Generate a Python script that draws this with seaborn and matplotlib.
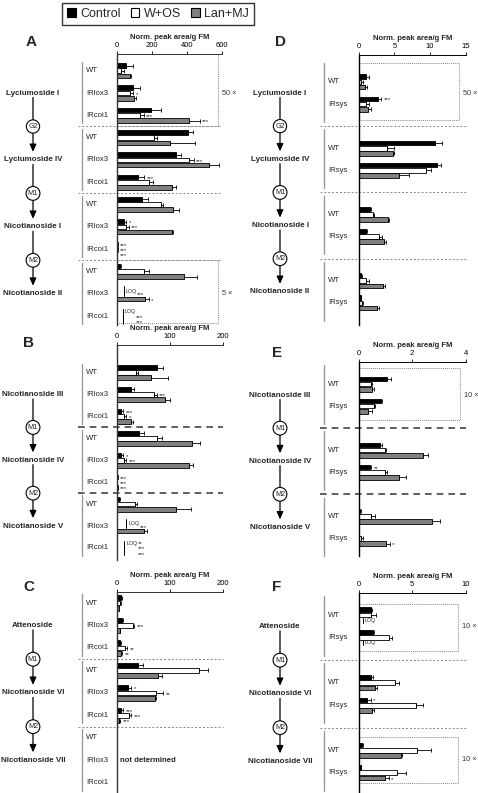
import numpy as np
import pandas as pd
import seaborn as sns
import matplotlib.pyplot as plt
from matplotlib.patches import Patch, Rectangle
from matplotlib.transforms import blended_transform_factory

sns.set_style('white')
plt.rcParams['font.family'] = ['Liberation Sans', 'DejaVu Sans']

W, H = 478, 793
nan = np.nan

treatments = ['Control', 'W+OS', 'Lan+MJ']
colors = ['black', 'white', '#808080']

# Panel A - rows are compound x genotype
a_compounds = ['Lyciumoside I', 'Lyciumoside IV', 'Nicotianoside I', 'Nicotianoside II']
a_steps = ['G2', 'M1', 'M2']
a_genotypes = ['WT', 'IRlox3', 'IRcoi1']
a_control = [53, 91, 194, 406, 339, 118, 143, 38, 3, 19, 0, 0]
a_control_err = [38, 42, 57, 28, 27, 38, 32, 15, 0, 4, 0, 0]
a_wos = [23, 76, 133, 210, 410, 181, 251, 53, 3, 156, 0, 0]
a_wos_err = [19, 15, 19, 19, 28, 25, 12, 14, 0, 25, 0, 0]
a_lanmj = [72, 99, 410, 305, 524, 314, 320, 314, 2, 385, 162, 0]
a_lanmj_err = [8, 11, 62, 143, 57, 25, 32, 6, 0, 72, 19, 0]
a_control_sig = ['', '', '', '', '', '***', '', '*', '***', '', '', '']
a_wos_sig = ['', '*', '***', '', '***', '', '', '***', '***', '', '***', '***']
a_lanmj_sig = ['', '', '***', '', '', '', '', '', '***', '', '*', '***']
a_loq_rows = [10, 11]
a_loq_levels = [38, 32]
a_loq_bars = [[0, 1], [0, 1, 2]]

# Panel B
b_compounds = ['Nicotianoside III', 'Nicotianoside IV', 'Nicotianoside V']
b_steps = ['M1', 'M2']
b_genotypes = ['WT', 'IRlox3', 'IRcoi1']
b_control = [75, 27, 7.5, 42, 7.5, 1, 4, 0, 0]
b_control_err = [11, 5, 3.5, 9, 4.5, 0, 1, 0, 0]
b_wos = [36, 69, 14, 76, 14, 0.5, 34, 0, 0]
b_wos_err = [4, 6, 3, 8, 3, 0, 3, 0, 0]
b_lanmj = [64, 90, 26, 142, 136, 1, 112, 50, 0]
b_lanmj_err = [33, 10, 5, 14, 7, 0, 28, 6, 0]
b_control_sig = ['', '', '***', '', '*', '***', '', '', '**']
b_wos_sig = ['', '***', '*', '', '***', '***', '', '***', '***']
b_lanmj_sig = ['', '', '', '', '', '***', '', '', '***']
b_loq_rows = [7, 8]
b_loq_levels = [17, 14]
b_loq_bars = [[0, 1], [0, 1, 2]]

# Panel C (Nicotianoside VII not determined)
c_compounds = ['Attenoside', 'Nicotianoside VI', 'Nicotianoside VII']
c_steps = ['M1', 'M2']
c_genotypes = ['WT', 'IRlox3', 'IRcoi1']
c_control = [7.5, 10, 6, 40, 20, 7.5, nan, nan, nan]
c_control_err = [1.5, 2, 1.5, 9, 6, 3.5, nan, nan, nan]
c_wos = [6, 31, 16, 155, 73, 22, nan, nan, nan]
c_wos_err = [1.5, 2, 3, 16, 14, 4, nan, nan, nan]
c_lanmj = [3, 5, 7.5, 77, 72, 4, nan, nan, nan]
c_lanmj_err = [1, 1, 1.5, 8, 2, 2, nan, nan, nan]
c_control_sig = ['', '', '', '', '*', '***', '', '', '']
c_wos_sig = ['', '***', '**', '', '**', '***', '', '', '']
c_lanmj_sig = ['', '', '**', '', '', '***', '', '', '']

# Panel D
d_compounds = ['Lyciumoside I', 'Lyciumoside IV', 'Nicotianoside I', 'Nicotianoside II']
d_steps = ['G2', 'M1', 'M2']
d_genotypes = ['WT', 'IRsys']
d_control = [1.07, 2.7, 10.7, 11.0, 1.54, 1.0, 0.37, 0.28]
d_control_err = [0.33, 0.4, 1.0, 0.6, 0.2, 0.15, 0.1, 0.05]
d_wos = [0.37, 1.07, 3.9, 9.5, 2.0, 2.9, 1.07, 0.46]
d_wos_err = [0.19, 0.33, 1.1, 0.7, 0.2, 0.3, 0.4, 0.15]
d_lanmj = [0.93, 1.3, 4.8, 5.6, 4.1, 3.5, 3.4, 2.6]
d_lanmj_err = [0.27, 0.4, 0.2, 1.4, 0.2, 0.35, 0.3, 0.3]
d_control_sig = ['', '***', '', '', '', '', '', '']
d_wos_sig = ['', '', '', '', '', '', '', '']
d_lanmj_sig = ['', '', '', '', '', '', '', '']

# Panel E
e_compounds = ['Nicotianoside III', 'Nicotianoside IV', 'Nicotianoside V']
e_steps = ['M1', 'M2']
e_genotypes = ['WT', 'IRsys']
e_control = [1.06, 0.82, 0.79, 0.41, 0.05, 0.02]
e_control_err = [0.14, 0.05, 0.08, 0.06, 0.02, 0]
e_wos = [0.45, 0.57, 0.97, 1.0, 0.45, 0.1]
e_wos_err = [0.05, 0.05, 0.06, 0.07, 0.17, 0.05]
e_lanmj = [0.5, 0.35, 2.4, 1.5, 2.74, 1.03]
e_lanmj_err = [0.07, 0.15, 0.2, 0.28, 0.29, 0.13]
e_control_sig = ['', '', '', '**', '', '']
e_wos_sig = ['', '', '', '', '', '']
e_lanmj_sig = ['', '', '', '', '', '*']

# Panel F
f_compounds = ['Attenoside', 'Nicotianoside VI', 'Nicotianoside VII']
f_steps = ['M1', 'M2']
f_genotypes = ['WT', 'IRsys']
f_control = [1.12, 1.34, 1.18, 0.81, 0.31, 0.19]
f_control_err = [0.16, 0.09, 0.12, 0.31, 0.13, 0.05]
f_wos = [1.18, 2.8, 3.43, 5.39, 5.48, 3.6]
f_wos_err = [0.47, 0.3, 0.31, 0.61, 1.3, 0.85]
f_lanmj = [0, 0, 1.56, 1.25, 3.93, 2.43]
f_lanmj_err = [0, 0, 0.18, 0.18, 0.12, 0.37]
f_control_sig = ['', '', '', '*', '', '']
f_wos_sig = ['', '', '', '', '', '']
f_lanmj_sig = ['', '', '', '', '', '*']
f_loq_rows = [0, 1]
f_loq_levels = [0.4, 0.4]
f_loq_bars = [[2], [2]]


fig = plt.figure(figsize=(W / 100, H / 100), dpi=100)


def px(x):
    return x / W


def add_panel(left, right, top, bottom):
    return fig.add_axes([left / W, 1 - bottom / H, (right - left) / W, (bottom - top) / H])


def draw_panel(ax, compounds, steps, genotypes, vals, errs, sigs, xmax, xticks, ylim,
               side, heavy_sep=False, loq=None, spine_color='#333333'):
    ng = len(genotypes)
    pos = [c * 3 + g for c in range(len(compounds)) for g in range(ng)]
    rows = []
    for i, t in enumerate(treatments):
        for j, p in enumerate(pos):
            if not np.isnan(vals[i][j]):
                rows.append({'pos': p, 'trt': t, 'value': vals[i][j]})
    df = pd.DataFrame(rows)
    sns.barplot(data=df, x='value', y='pos', hue='trt', hue_order=treatments,
                palette=colors, orient='h', native_scale=True, width=0.7, gap=0.1,
                errorbar=None, edgecolor='black', linewidth=0.6, legend=False, ax=ax)

    # bar geometry from the drawn patches
    geo = {}
    for i, cont in enumerate(ax.containers):
        for bar in cont:
            yc = bar.get_y() + bar.get_height() / 2
            geo[(i, int(round(yc)))] = (yc, bar.get_height(), bar.get_width())

    loq_map = {}
    if loq is not None:
        for r, lev, bars in zip(*loq):
            p = pos[r]
            ys = [geo[(b, p)] for b in bars if (b, p) in geo]
            y0 = min(g[0] - g[1] / 2 for g in ys)
            y1 = max(g[0] + g[1] / 2 for g in ys)
            ax.plot([lev, lev], [y0, y1], color='black', lw=0.7, clip_on=False)
            ax.text(lev + 0.02 * xmax, (y0 + y1) / 2 if len(bars) < 3 else y0 + 0.12,
                    'LOQ', fontsize=3.8, va='center', ha='left')
            for b in bars:
                loq_map[(b, p)] = lev + 0.13 * xmax

    for i in range(3):
        for j, p in enumerate(pos):
            if (i, p) not in geo:
                continue
            yc, h, w = geo[(i, p)]
            e = errs[i][j]
            if e and not np.isnan(e):
                ax.errorbar([w], [yc], xerr=[[0], [e]], fmt='none', ecolor='black',
                            elinewidth=0.6, capsize=1.3, capthick=0.6, clip_on=False)
            s = sigs[i][j]
            if s:
                xs = loq_map.get((i, p), w + (e if e and not np.isnan(e) else 0) + 0.025 * xmax)
                ax.text(xs, yc + 0.05, s, fontsize=4.4, va='center', ha='left')

    ax.set_xlim(0, xmax)
    ax.set_ylim(*ylim)
    ax.set_xticks(xticks)
    ax.set_yticks([])
    ax.set_xlabel('')
    ax.set_ylabel('')
    ax.xaxis.set_ticks_position('top')
    ax.tick_params(axis='x', direction='out', length=2.5, width=0.6, pad=0.8,
                   labelsize=5.5, colors='black')
    for k in ['right', 'bottom']:
        ax.spines[k].set_visible(False)
    ax.spines['top'].set_color(spine_color)
    ax.spines['top'].set_linewidth(0.7)
    ax.spines['left'].set_color(spine_color)
    ax.spines['left'].set_linewidth(1.0)

    # margin annotations
    tr = blended_transform_factory(fig.transFigure, ax.transData)
    x1 = ax.get_position().x1
    if side == 'left':
        name_x, brk_x, gen_x, sep_x = 33, 82, 86, 78
        brk = (-0.4, 2.35)
    else:
        name_x, brk_x, gen_x, sep_x = 280, 324, 328, 320
        brk = (-0.85, 1.8)
    centers = [c * 3 + (ng - 1) / 2 for c in range(len(compounds))]
    seps = [c * 3 - (3 - ng) / 2 - 0.5 for c in range(1, len(compounds))]
    for c, name in enumerate(compounds):
        ax.text(px(name_x), centers[c], name, transform=tr, ha='center', va='center',
                fontsize=5.8, fontweight='bold')
        ax.plot([px(brk_x)] * 2, [c * 3 + brk[0], c * 3 + brk[1]], transform=tr,
                color='#999999', lw=1.0, clip_on=False)
        for g, gname in enumerate(genotypes):
            ax.text(px(gen_x), c * 3 + g, gname, transform=tr, ha='left', va='center',
                    fontsize=5.6)
    for k, s in enumerate(seps):
        if heavy_sep:
            ax.plot([px(sep_x), x1], [s, s], transform=tr, color='#444444', lw=1.2,
                    dashes=(4, 3), clip_on=False)
        else:
            ax.plot([px(sep_x), x1], [s, s], transform=tr, color='#888888', lw=0.7,
                    dashes=(2, 2), clip_on=False)
        ax.annotate('', xy=(px(name_x), centers[k + 1] - 0.36),
                    xytext=(px(name_x), centers[k] + 0.2), xycoords=tr, textcoords=tr,
                    arrowprops=dict(arrowstyle='-|>,head_length=0.45,head_width=0.2',
                                    lw=0.9, color='black', shrinkA=0, shrinkB=0),
                    annotation_clip=False, zorder=2)
        ax.text(px(name_x), s, steps[k], transform=tr, ha='center', va='center',
                fontsize=5.2, zorder=6,
                bbox=dict(boxstyle='circle,pad=0.25', fc='white', ec='black', lw=0.8))

    # axis title
    top_px = (1 - ax.get_position().y1) * H
    cx = (ax.get_position().x0 + x1) / 2
    fig.text(cx, 1 - (top_px - 16.5) / H, 'Norm. peak area/g FM', ha='center', va='center',
             fontsize=5.5, fontweight='bold')
    return ax


def add_box(ax, x0, x1, y0, y1, label, ly):
    ax.add_patch(Rectangle((x0, y0), x1 - x0, y1 - y0, fill=False, ec='#888888',
                           lw=0.7, ls=(0, (1, 1)), clip_on=False, zorder=1))
    ax.annotate(label, xy=(x1, ly), xytext=(3, 0), textcoords='offset points',
                ha='left', va='center', fontsize=5.3, color='#333333',
                annotation_clip=False)


# Panel A
ax = add_panel(117, 222, 54, 325)
draw_panel(ax, a_compounds, a_steps, a_genotypes,
           [a_control, a_wos, a_lanmj], [a_control_err, a_wos_err, a_lanmj_err],
           [a_control_sig, a_wos_sig, a_lanmj_sig], 600, [0, 200, 400, 600],
           (11.4, -0.75), 'left', loq=(a_loq_rows, a_loq_levels, a_loq_bars))
add_box(ax, 0, 577, -0.75, 2.5, '50 ×', 1)
add_box(ax, 0, 577, 8.5, 11.3, '5 ×', 10)

# Panel B
ax = add_panel(117, 223, 345, 560)
draw_panel(ax, b_compounds, b_steps, b_genotypes,
           [b_control, b_wos, b_lanmj], [b_control_err, b_wos_err, b_lanmj_err],
           [b_control_sig, b_wos_sig, b_lanmj_sig], 200, [0, 100, 200],
           (8.55, -1.26), 'left', heavy_sep=True, loq=(b_loq_rows, b_loq_levels, b_loq_bars))

# Panel C
ax = add_panel(117, 223, 592, 793)
draw_panel(ax, c_compounds, c_steps, c_genotypes,
           [c_control, c_wos, c_lanmj], [c_control_err, c_wos_err, c_lanmj_err],
           [c_control_sig, c_wos_sig, c_lanmj_sig], 200, [0, 100, 200],
           (8.45, -0.49), 'left')
ax.text(5, 7, 'not determined', fontsize=5.6, fontweight='bold', va='center', ha='left')

# Panel D
ax = add_panel(358.7, 465.7, 55, 325)
draw_panel(ax, d_compounds, d_steps, d_genotypes,
           [d_control, d_wos, d_lanmj], [d_control_err, d_wos_err, d_lanmj_err],
           [d_control_sig, d_wos_sig, d_lanmj_sig], 15, [0, 5, 10, 15],
           (11.0, -1.22), 'right', spine_color='black')
add_box(ax, 0.05, 14.07, -0.86, 1.72, '50 ×', 0.5)

# Panel E
ax = add_panel(358.7, 465.7, 362, 556)
draw_panel(ax, e_compounds, e_steps, e_genotypes,
           [e_control, e_wos, e_lanmj], [e_control_err, e_wos_err, e_lanmj_err],
           [e_control_sig, e_wos_sig, e_lanmj_sig], 4, [0, 2, 4],
           (7.8, -1.0), 'right', heavy_sep=True, spine_color='black')
add_box(ax, 0.01, 3.79, -0.73, 1.64, '10 ×', 0.5)

# Panel F
ax = add_panel(358.7, 465.7, 593, 793)
draw_panel(ax, f_compounds, f_steps, f_genotypes,
           [f_control, f_wos, f_lanmj], [f_control_err, f_wos_err, f_lanmj_err],
           [f_control_sig, f_wos_sig, f_lanmj_sig], 10, [0, 5, 10],
           (7.9, -0.98), 'right', spine_color='black', loq=(f_loq_rows, f_loq_levels, f_loq_bars))
add_box(ax, 0.03, 9.3, -0.49, 1.6, '10 ×', 0.5)
add_box(ax, 0.03, 9.3, 5.4, 7.47, '10 ×', 6.4)

# panel letters
for letter, x, y in [('A', 31, 42), ('B', 29, 343), ('C', 29, 587),
                     ('D', 281, 42), ('E', 277, 353), ('F', 277, 587)]:
    fig.text(px(x), 1 - y / H, letter, fontsize=11, fontweight='bold', ha='center', va='center')

handles = [Patch(facecolor=c, edgecolor='black', linewidth=0.8, label=t)
           for c, t in zip(colors, treatments)]
leg = fig.legend(handles=handles, loc='center', bbox_to_anchor=(px(158), 1 - 14 / H), ncol=3,
                 fontsize=9, frameon=True, fancybox=False, edgecolor='black',
                 handlelength=0.7, handleheight=0.7, handletextpad=0.35,
                 columnspacing=0.8, borderpad=0.4, borderaxespad=0)
leg.get_frame().set_linewidth(1.0)

fig.savefig('out.png', dpi=100)
